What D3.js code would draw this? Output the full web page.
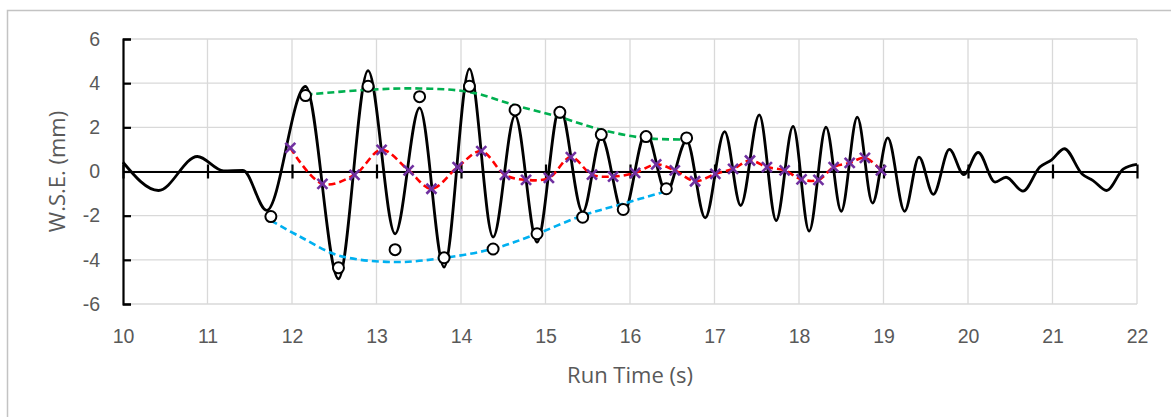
<!DOCTYPE html>
<html>
<head>
<meta charset="utf-8">
<script src="https://cdn.jsdelivr.net/npm/d3@7"></script>
<style>
  html, body { margin: 0; padding: 0; background: #fff; }
  svg { display: block; font-family: "Open Sans", sans-serif; }
  .tick-label text { fill: #595959; font-size: 19.5px; }
  .axis-title { fill: #595959; font-size: 22px; }
</style>
</head>
<body>
<svg id="chart" width="1171" height="417"></svg>
<script>
// measured wave surface elevation (black line): extremes and a few shape points
const waveT = [10.00, 10.42, 10.88, 11.19, 11.42, 11.70, 12.16, 12.55, 12.90, 13.22, 13.51, 13.80,
  14.10, 14.38, 14.64, 14.90, 15.17, 15.44, 15.66, 15.92, 16.19, 16.43, 16.67, 16.89, 17.12, 17.31,
  17.53, 17.73, 17.93, 18.12, 18.32, 18.50, 18.69, 18.87, 19.05, 19.25, 19.42, 19.59, 19.78, 19.95,
  20.12, 20.32, 20.45, 20.65, 20.85, 20.99, 21.14, 21.35, 21.48, 21.64, 21.84, 22.00];
const waveV = [0.42, -0.86, 0.68, 0.03, 0.05, -1.76, 3.85, -4.86, 4.57, -2.82, 2.88, -4.33,
  4.65, -2.97, 2.53, -3.20, 2.91, -1.84, 1.55, -1.92, 1.78, -0.94, 1.40, -2.10, 1.81, -1.54,
  2.56, -2.22, 2.04, -2.70, 2.01, -1.80, 2.46, -1.43, 1.52, -1.80, 0.65, -1.04, 1.00, -0.14,
  0.87, -0.48, -0.26, -0.89, 0.20, 0.53, 1.03, -0.11, -0.41, -0.86, 0.12, 0.32];

// open circles
const circT = [11.75, 12.16, 12.55, 12.90, 13.22, 13.51, 13.80, 14.10, 14.38, 14.64, 14.90, 15.17,
  15.44, 15.66, 15.92, 16.19, 16.43, 16.67];
const circV = [-2.04, 3.44, -4.36, 3.86, -3.54, 3.39, -3.91, 3.86, -3.51, 2.79, -2.82, 2.68,
  -2.07, 1.67, -1.72, 1.58, -0.78, 1.52];

// upper envelope (green dashed)
const upT = [12.16, 12.90, 13.51, 14.10, 14.64, 15.17, 15.66, 16.19, 16.67];
const upV = [3.48, 3.70, 3.76, 3.60, 3.00, 2.46, 1.89, 1.51, 1.45];

// lower envelope (blue dashed)
const lowT = [11.75, 12.09, 12.55, 13.22, 13.80, 14.38, 14.90, 15.44, 15.92, 16.43];
const lowV = [-2.22, -2.94, -3.80, -4.10, -3.91, -3.50, -2.82, -1.99, -1.46, -0.89];

// mean level (red dashed with crosses)
const meanT = [11.98, 12.36, 12.74, 13.06, 13.38, 13.65, 13.96, 14.24, 14.52, 14.77, 15.04, 15.30,
  15.55, 15.80, 16.06, 16.31, 16.53, 16.77, 17.01, 17.22, 17.42, 17.62, 17.83, 18.03, 18.23,
  18.41, 18.60, 18.78, 18.97];
const meanV = [1.07, -0.56, -0.15, 0.98, 0.05, -0.78, 0.20, 0.92, -0.15, -0.38, -0.29, 0.65,
  -0.14, -0.23, -0.06, 0.32, 0.05, -0.44, -0.11, 0.12, 0.50, 0.20, 0.05, -0.36, -0.38,
  0.20, 0.39, 0.62, 0.05];

const xTicks = d3.range(10, 23, 1);
const yTicks = d3.range(-6, 7, 2);

const svg = d3.select('#chart');
const x = d3.scaleLinear().domain([10, 22]).range([123, 1137]);
const y = d3.scaleLinear().domain([-6, 6]).range([304, 39]);

const zip = (ts, vs) => ts.map((t, i) => [t, vs[i]]);
const plain = (d) => String(d);

// chart area border
svg.append('rect')
  .attr('x', 7.5).attr('y', 10.5)
  .attr('width', 1300).attr('height', 600)
  .attr('fill', 'none').attr('stroke', '#c3c3c3').attr('stroke-width', 1.5);

// gridlines
const grid = svg.append('g').attr('stroke', '#d9d9d9').attr('stroke-width', 1.3);
grid.selectAll('line.h').data(yTicks).join('line')
  .attr('class', 'h')
  .attr('x1', x(10)).attr('x2', x(22))
  .attr('y1', (d) => y(d)).attr('y2', (d) => y(d));
grid.selectAll('line.v').data(xTicks.slice(1)).join('line')
  .attr('class', 'v')
  .attr('x1', (d) => x(d)).attr('x2', (d) => x(d))
  .attr('y1', y(6)).attr('y2', y(-6));

// y axis line with inner ticks
const yAxis = svg.append('g')
  .attr('transform', `translate(${x(10)},0)`)
  .call(d3.axisRight(y).tickValues(yTicks).tickSize(8).tickSizeOuter(8).tickFormat(''));
yAxis.selectAll('path, line').attr('stroke', '#000').attr('stroke-width', 2.2);

// y labels
const yLabels = svg.append('g')
  .attr('class', 'tick-label')
  .attr('transform', `translate(${x(10)},0)`)
  .call(d3.axisLeft(y).tickValues(yTicks).tickSize(0).tickPadding(23).tickFormat(plain));
yLabels.select('.domain').remove();
yLabels.selectAll('text').attr('font-family', null).attr('font-size', null);

// x axis through zero with crossing ticks
const xAxis = svg.append('g')
  .attr('transform', `translate(0,${y(0)})`)
  .call(d3.axisBottom(x).tickValues(xTicks).tickSize(7).tickSizeOuter(0).tickFormat(''));
xAxis.selectAll('.tick line').attr('y1', -7).attr('y2', 7);
xAxis.selectAll('path, line').attr('stroke', '#000').attr('stroke-width', 2.2);

// x labels under the plot
const xLabels = svg.append('g')
  .attr('class', 'tick-label')
  .attr('transform', `translate(0,${y(-6)})`)
  .call(d3.axisBottom(x).tickValues(xTicks).tickSize(0).tickPadding(25).tickFormat(plain));
xLabels.select('.domain').remove();
xLabels.selectAll('text').attr('font-family', null).attr('font-size', null);

// axis titles
svg.append('text')
  .attr('class', 'axis-title')
  .attr('x', (x(10) + x(22)) / 2).attr('y', 383)
  .attr('text-anchor', 'middle')
  .text('Run Time (s)');
svg.append('text')
  .attr('class', 'axis-title')
  .attr('transform', `translate(65,${y(0)}) rotate(-90)`)
  .attr('text-anchor', 'middle')
  .text('W.S.E. (mm)');

const line = (curve) => d3.line().x((d) => x(d[0])).y((d) => y(d[1])).curve(curve);

// wave
svg.append('path')
  .datum(zip(waveT, waveV))
  .attr('fill', 'none').attr('stroke', '#000').attr('stroke-width', 2.8)
  .attr('stroke-linejoin', 'round')
  .attr('d', line(d3.curveMonotoneX));

// envelopes and mean
const dashed = [
  { data: zip(upT, upV), color: '#00b050' },
  { data: zip(lowT, lowV), color: '#00b0f0' },
  { data: zip(meanT, meanV), color: '#ff0000' }
];
svg.selectAll('path.dashed').data(dashed).join('path')
  .attr('class', 'dashed')
  .attr('fill', 'none')
  .attr('stroke', (d) => d.color)
  .attr('stroke-width', 2.6)
  .attr('stroke-dasharray', '7,4')
  .attr('d', (d) => line(d3.curveCatmullRom.alpha(0.5))(d.data));

// circles
svg.append('g').selectAll('circle').data(zip(circT, circV)).join('circle')
  .attr('cx', (d) => x(d[0])).attr('cy', (d) => y(d[1]))
  .attr('r', 5.5)
  .attr('fill', '#fff').attr('stroke', '#000').attr('stroke-width', 2);

// crosses
const crosses = svg.append('g')
  .attr('stroke', '#7030a0').attr('stroke-width', 2.6)
  .selectAll('g').data(zip(meanT, meanV)).join('g')
  .attr('transform', (d) => `translate(${x(d[0])},${y(d[1])})`);
crosses.append('line').attr('x1', -5).attr('y1', -5).attr('x2', 5).attr('y2', 5);
crosses.append('line').attr('x1', -5).attr('y1', 5).attr('x2', 5).attr('y2', -5);
</script>
</body>
</html>
